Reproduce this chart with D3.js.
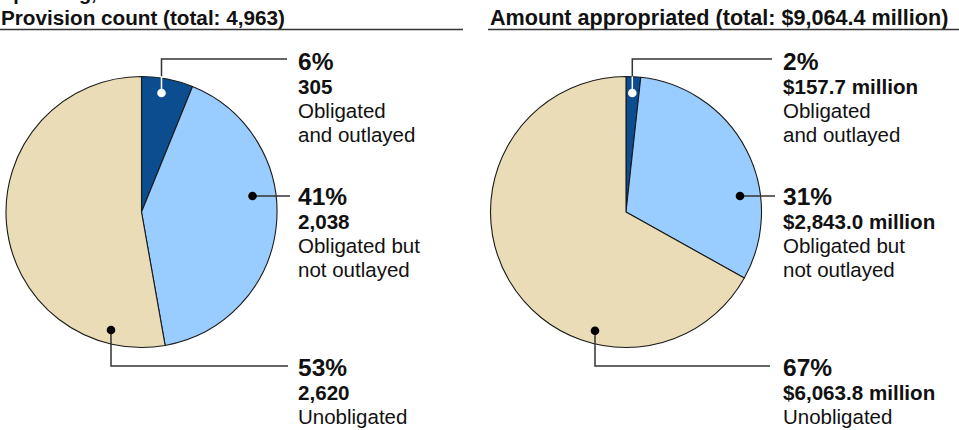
<!DOCTYPE html>
<html>
<head>
<meta charset="utf-8">
<script src="https://cdn.jsdelivr.net/npm/d3@7"></script>
<style>
  html, body { margin: 0; padding: 0; background: #fff; }
  svg { display: block; font-family: "Liberation Sans", Arial, Helvetica, sans-serif; }
</style>
</head>
<body>
<svg id="chart" width="959" height="430"></svg>
<script>
// ---- data ----
const categories = ["Obligated and outlayed", "Obligated but not outlayed", "Unobligated"];
const categoryLines = [["Obligated", "and outlayed"], ["Obligated but", "not outlayed"], ["Unobligated"]];
const provisionCounts = [305, 2038, 2620];
const amountsMillions = [157.7, 2843.0, 6063.8];
const panelTitles = ["Provision count (total: 4,963)", "Amount appropriated (total: $9,064.4 million)"];
const provisionLabels = ["305", "2,038", "2,620"];
const amountLabels = ["$157.7 million", "$2,843.0 million", "$6,063.8 million"];
const colors = ["#0b4d8f", "#99ccff", "#e9dcb7"];

// ---- layout ----
const svg = d3.select("#chart");
const R = 135.5;
const panels = [
  { cx: 141.5, cy: 212, values: provisionCounts, labels: provisionLabels, title: panelTitles[0],
    titleX: 1, titleSize: 20.7, ruleX0: 0, ruleX1: 463, textX: 298,
    dots: [[20, -119], [111, -16], [-30.5, 118]], lineEnds: [287, 290, 288] },
  { cx: 626, cy: 212, values: amountsMillions, labels: amountLabels, title: panelTitles[1],
    titleX: 490, titleSize: 21.6, ruleX0: 488, ruleX1: 959, textX: 783,
    dots: [[6.3, -119], [114, -16], [-31, 118.7]], lineEnds: [772, 775, 770] }
];

// cut-off heading line at the very top
svg.append("text").attr("x", 0).attr("y", 0)
  .attr("font-size", 20).attr("font-weight", "bold").attr("fill", "#111")
  .text("Spending,");

const pie = d3.pie().sort(null).value(d => d).startAngle(0).endAngle(2 * Math.PI);
const arc = d3.arc().innerRadius(0).outerRadius(R);

panels.forEach(p => {
  // title + rule
  svg.append("text").attr("x", p.titleX).attr("y", 25)
    .attr("font-size", p.titleSize).attr("font-weight", "bold").attr("fill", "#111")
    .text(p.title);
  svg.append("line").attr("x1", p.ruleX0).attr("x2", p.ruleX1)
    .attr("y1", 29.5).attr("y2", 29.5).attr("stroke", "#333").attr("stroke-width", 1.5);

  const total = d3.sum(p.values);
  const g = svg.append("g").attr("transform", `translate(${p.cx},${p.cy})`);
  const arcs = pie(p.values);
  g.selectAll("path").data(arcs).join("path")
    .attr("d", arc)
    .attr("fill", (d, i) => colors[i])
    .attr("stroke", "#1a1a1a").attr("stroke-width", 1.1).attr("stroke-linejoin", "round");

  const ann = svg.append("g");
  const blockY = [70, 205, 376];

  // leader 0: from dot up to y=59 then right
  {
    const [dx, dy] = p.dots[0];
    const x = p.cx + dx, y = p.cy + dy;
    const pieTop = p.cy - R;
    ann.append("path").attr("d", `M${x},${pieTop}V59H${p.lineEnds[0]}`)
      .attr("fill", "none").attr("stroke", "#333").attr("stroke-width", 1.5);
    ann.append("line").attr("x1", x).attr("x2", x).attr("y1", y).attr("y2", pieTop)
      .attr("stroke", "#fff").attr("stroke-width", 1.5);
    ann.append("circle").attr("cx", x).attr("cy", y).attr("r", 4.3).attr("fill", "#fff");
  }
  // leader 1: horizontal
  {
    const [dx, dy] = p.dots[1];
    const x = p.cx + dx, y = p.cy + dy;
    ann.append("line").attr("x1", x).attr("x2", p.lineEnds[1]).attr("y1", y).attr("y2", y)
      .attr("stroke", "#333").attr("stroke-width", 1.5);
    ann.append("circle").attr("cx", x).attr("cy", y).attr("r", 4.3).attr("fill", "#000");
  }
  // leader 2: down then right
  {
    const [dx, dy] = p.dots[2];
    const x = p.cx + dx, y = p.cy + dy;
    ann.append("path").attr("d", `M${x},${y}V366H${p.lineEnds[2]}`)
      .attr("fill", "none").attr("stroke", "#333").attr("stroke-width", 1.5);
    ann.append("circle").attr("cx", x).attr("cy", y).attr("r", 4.3).attr("fill", "#000");
  }

  // label blocks
  p.values.forEach((v, i) => {
    const t = ann.append("text").attr("fill", "#111");
    t.append("tspan").attr("x", p.textX).attr("y", blockY[i])
      .attr("font-size", 24.5).attr("font-weight", "bold")
      .text(Math.round(v / total * 100) + "%");
    t.append("tspan").attr("x", p.textX).attr("y", blockY[i] + 24)
      .attr("font-size", 20.6).attr("font-weight", "bold")
      .text(p.labels[i]);
    categoryLines[i].forEach((line, j) => {
      t.append("tspan").attr("x", p.textX).attr("y", blockY[i] + 48 + j * 24)
        .attr("font-size", 20.5)
        .text(line);
    });
  });
});
</script>
</body>
</html>
